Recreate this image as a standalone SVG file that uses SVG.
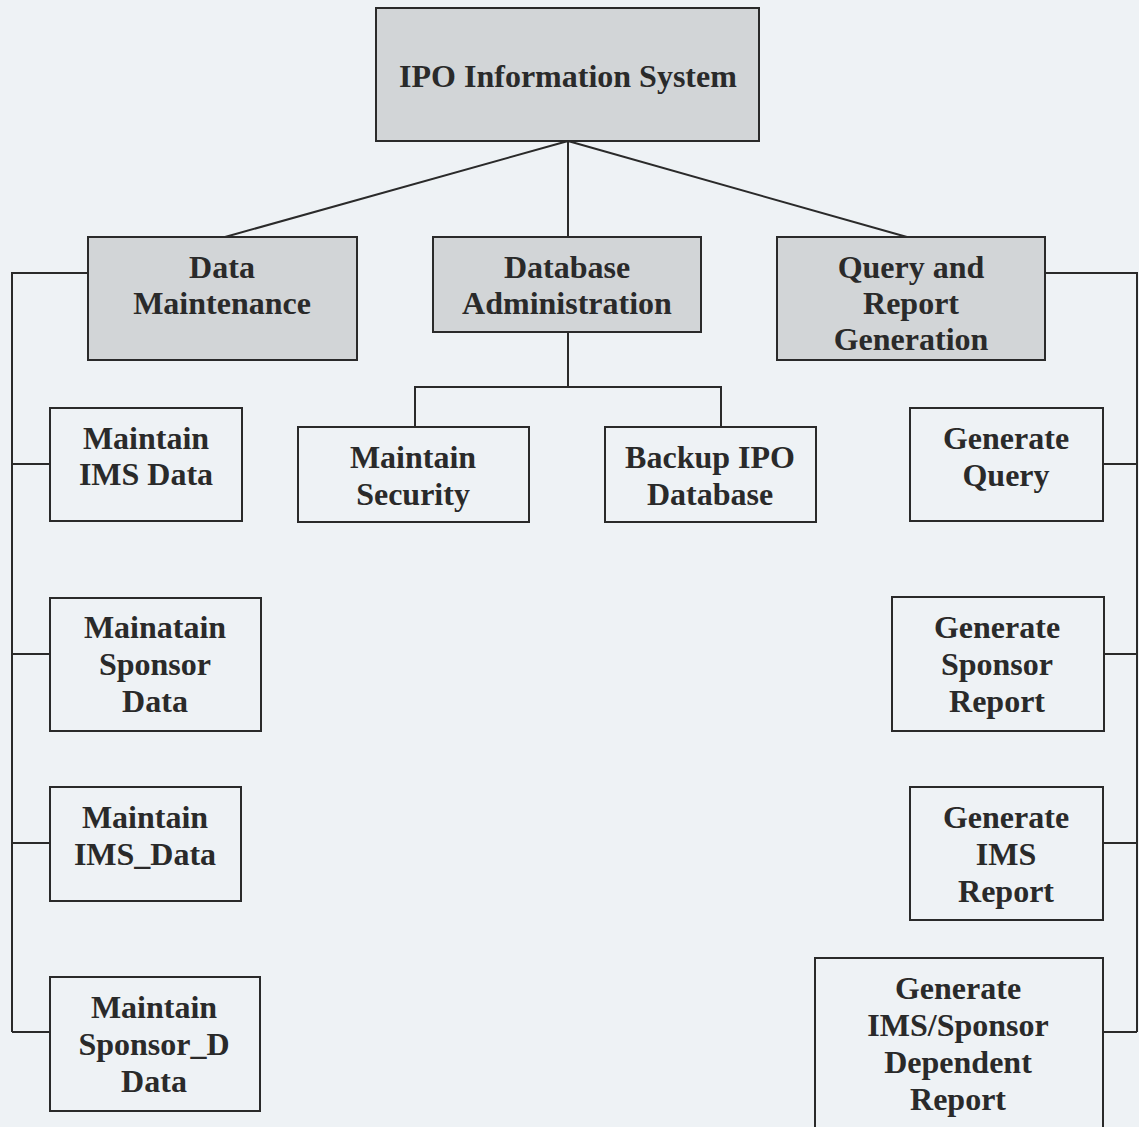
<svg xmlns="http://www.w3.org/2000/svg" width="1139" height="1127" viewBox="0 0 1139 1127">
<style>
.bg{fill:#eef2f5}
.top{fill:#d2d5d7;stroke:#2a2a2a;stroke-width:2}
.mid{fill:#d2d5d7;stroke:#2a2a2a;stroke-width:2}
.leaf{fill:#eef2f5;stroke:#2a2a2a;stroke-width:2}
.c{fill:none;stroke:#2a2a2a;stroke-width:2}
text{font-family:"Liberation Serif","Times New Roman",serif;font-weight:bold;font-size:32px;fill:#2a2a2a;text-anchor:middle}
.t{font-size:32px}
</style>
<rect class="bg" x="0" y="0" width="1139" height="1127"/>
<g id="connectors">
<path class="c" d="M568,141 L225,237 M568,141 L568,237 M568,141 L907,237"/>
<path class="c" d="M88,273 H12 V1032 M12,464 H50 M12,654 H50 M12,843 H50 M12,1032 H50"/>
<path class="c" d="M568,332 V387 M415,427 V387 H721 V427"/>
<path class="c" d="M1045,273 H1137 V1032 M1103,464 H1137 M1104,654 H1137 M1103,843 H1137 M1103,1032 H1137"/>
</g>
<g id="ipo">
<rect class="top" x="376" y="8" width="383" height="133"/>
<text class="t" x="568" y="87">IPO Information System</text>
</g>
<g id="data-maintenance">
<rect class="mid" x="88" y="237" width="269" height="123"/>
<text x="222" y="278">Data</text>
<text x="222" y="314">Maintenance</text>
</g>
<g id="database-administration">
<rect class="mid" x="433" y="237" width="268" height="95"/>
<text x="567" y="278">Database</text>
<text x="567" y="314">Administration</text>
</g>
<g id="query-report">
<rect class="mid" x="777" y="237" width="268" height="123"/>
<text x="911" y="278">Query and</text>
<text x="911" y="314">Report</text>
<text x="911" y="350">Generation</text>
</g>
<g id="maintain-ims-data">
<rect class="leaf" x="50" y="408" width="192" height="113"/>
<text x="146" y="449">Maintain</text>
<text x="146" y="485">IMS Data</text>
</g>
<g id="mainatain-sponsor-data">
<rect class="leaf" x="50" y="598" width="211" height="133"/>
<text x="155" y="638">Mainatain</text>
<text x="155" y="675">Sponsor</text>
<text x="155" y="712">Data</text>
</g>
<g id="maintain-ims_data">
<rect class="leaf" x="50" y="787" width="191" height="114"/>
<text x="145" y="828">Maintain</text>
<text x="145" y="865">IMS_Data</text>
</g>
<g id="maintain-sponsor_d-data">
<rect class="leaf" x="50" y="977" width="210" height="134"/>
<text x="154" y="1018">Maintain</text>
<text x="154" y="1055">Sponsor_D</text>
<text x="154" y="1092">Data</text>
</g>
<g id="maintain-security">
<rect class="leaf" x="298" y="427" width="231" height="95"/>
<text x="413" y="468">Maintain</text>
<text x="413" y="505">Security</text>
</g>
<g id="backup-ipo-database">
<rect class="leaf" x="605" y="427" width="211" height="95"/>
<text x="710" y="468">Backup IPO</text>
<text x="710" y="505">Database</text>
</g>
<g id="generate-query">
<rect class="leaf" x="910" y="408" width="193" height="113"/>
<text x="1006" y="449">Generate</text>
<text x="1006" y="486">Query</text>
</g>
<g id="generate-sponsor-report">
<rect class="leaf" x="892" y="597" width="212" height="134"/>
<text x="997" y="638">Generate</text>
<text x="997" y="675">Sponsor</text>
<text x="997" y="712">Report</text>
</g>
<g id="generate-ims-report">
<rect class="leaf" x="910" y="787" width="193" height="133"/>
<text x="1006" y="828">Generate</text>
<text x="1006" y="865">IMS</text>
<text x="1006" y="902">Report</text>
</g>
<g id="generate-ims-sponsor-dependent-report">
<rect class="leaf" x="815" y="958" width="288" height="175"/>
<text x="958" y="999">Generate</text>
<text x="958" y="1036">IMS/Sponsor</text>
<text x="958" y="1073">Dependent</text>
<text x="958" y="1110">Report</text>
</g>
</svg>
